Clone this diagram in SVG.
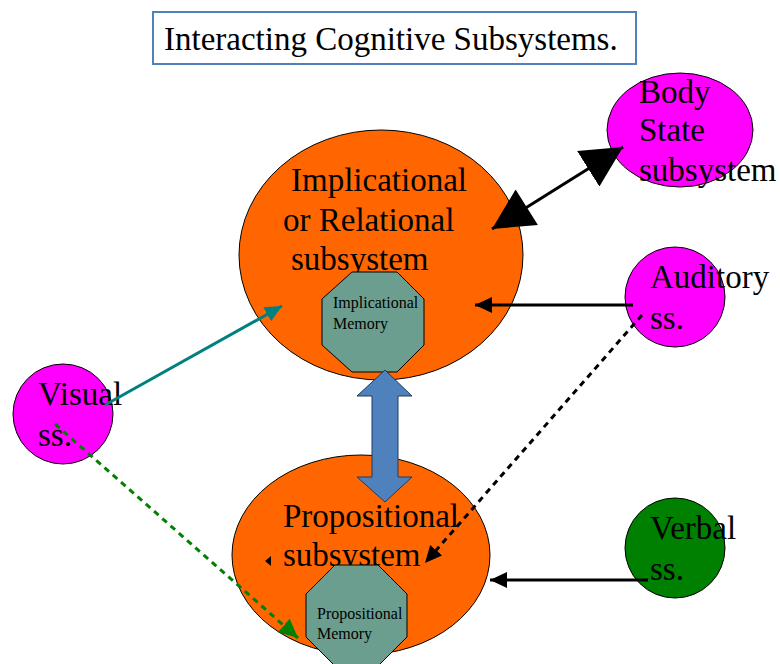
<svg xmlns="http://www.w3.org/2000/svg" width="780" height="664" viewBox="0 0 780 664">
<defs>
<style>
.big{font-family:"Liberation Serif","Times New Roman",serif;font-size:33px;fill:#000}
.small{font-family:"Liberation Serif","Times New Roman",serif;font-size:16px;fill:#000}
.sub{fill:#ff6600;stroke:#000;stroke-width:1}
.mag{fill:#ff00ff;stroke:#000;stroke-width:1}
.oct{fill:#6b9e8e;stroke:#000;stroke-width:1}
.con{fill:none;stroke-width:3}
</style>
<marker id="ah" markerUnits="userSpaceOnUse" markerWidth="18" markerHeight="16" refX="17" refY="8" orient="auto"><path d="M0,0 L17,8 L0,16 Z" fill="#000"/></marker>
<marker id="ahTeal" markerUnits="userSpaceOnUse" markerWidth="18" markerHeight="16" refX="17" refY="8" orient="auto"><path d="M0,0 L17,8 L0,16 Z" fill="#008080"/></marker>
<marker id="ahGreen" markerUnits="userSpaceOnUse" markerWidth="20" markerHeight="18" refX="19" refY="9" orient="auto"><path d="M0,0 L19,9 L0,18 Z" fill="#008000"/></marker>
<marker id="bigEnd" markerUnits="userSpaceOnUse" markerWidth="42" markerHeight="42" refX="41" refY="21" orient="auto"><path d="M0,0 L41,21 L0,42 Z" fill="#000"/></marker>
<marker id="bigStart" markerUnits="userSpaceOnUse" markerWidth="42" markerHeight="42" refX="0" refY="21" orient="auto"><path d="M41,0 L0,21 L41,42 Z" fill="#000"/></marker>
</defs>
<rect width="780" height="664" fill="#fff"/>

<g id="title">
<rect x="153" y="12" width="483" height="52" fill="#fff" stroke="#4f81bd" stroke-width="2"/>
<text class="big" x="164" y="50">Interacting Cognitive Subsystems.</text>
</g>

<g id="implicational">
<ellipse class="sub" cx="381" cy="255" rx="142" ry="125"/>
<text class="big" x="291" y="191">Implicational</text>
<text class="big" x="283" y="231">or Relational</text>
<text class="big" x="291" y="270">subsystem</text>
</g>

<g id="implicational-memory">
<polygon class="oct" points="352,272 397,272 424,299 424,345 397,372 352,372 322,345 322,299"/>
<text class="small" x="333" y="308">Implicational</text>
<text class="small" x="333" y="329">Memory</text>
</g>

<g id="propositional">
<ellipse class="sub" cx="361" cy="555" rx="129" ry="100"/>
</g>

<g id="body-state">
<ellipse class="mag" cx="680" cy="130" rx="73" ry="57"/>
<text class="big" x="639" y="103">Body</text>
<text class="big" x="639" y="141">State</text>
<text class="big" x="639" y="181">subsystem</text>
</g>

<g id="auditory">
<circle class="mag" cx="675" cy="297" r="50"/>
<text class="big" x="650" y="288">Auditory</text>
<text class="big" x="650" y="329">ss.</text>
</g>

<g id="visual">
<circle class="mag" cx="63" cy="414" r="50"/>
<text class="big" x="38" y="405">Visual</text>
<text class="big" x="38" y="446">ss.</text>
</g>

<g id="verbal">
<circle cx="675" cy="548" r="50" fill="#008000" stroke="#000" stroke-width="1"/>
<text class="big" x="650" y="539">Verbal</text>
<text class="big" x="650" y="580">ss.</text>
</g>

<g id="connectors">
<line class="con" x1="492" y1="229" x2="623" y2="147" stroke="#000" marker-start="url(#bigStart)" marker-end="url(#bigEnd)"/>
<line class="con" x1="633" y1="305" x2="475" y2="305" stroke="#000" marker-end="url(#ah)"/>
<line class="con" x1="648" y1="580" x2="490" y2="580" stroke="#000" marker-end="url(#ah)"/>
<line class="con" x1="105" y1="405" x2="282" y2="306" stroke="#008080" marker-end="url(#ahTeal)"/>
<line class="con" x1="642" y1="315" x2="425" y2="563" stroke="#000" stroke-dasharray="6,5" marker-end="url(#ah)"/>
<line class="con" x1="55" y1="424" x2="298" y2="638" stroke="#008000" stroke-dasharray="6,5" marker-end="url(#ahGreen)"/>
<polygon points="385,370 412,396 398,396 398,477 412,477 385,502 357,477 372,477 372,396 357,396" fill="#4f81bd" stroke="#1f3a5f" stroke-width="1"/>
<polygon points="265,561 271,556 271,566" fill="#000"/>
</g>

<g id="propositional-label">
<text class="big" x="283" y="527">Propositional</text>
<text class="big" x="283" y="566">subsystem</text>
</g>

<g id="propositional-memory">
<polygon class="oct" points="335,565 378,565 407,594 407,637 378,666 335,666 306,637 306,594"/>
<text class="small" x="317" y="619">Propositional</text>
<text class="small" x="317" y="639">Memory</text>
</g>
</svg>
